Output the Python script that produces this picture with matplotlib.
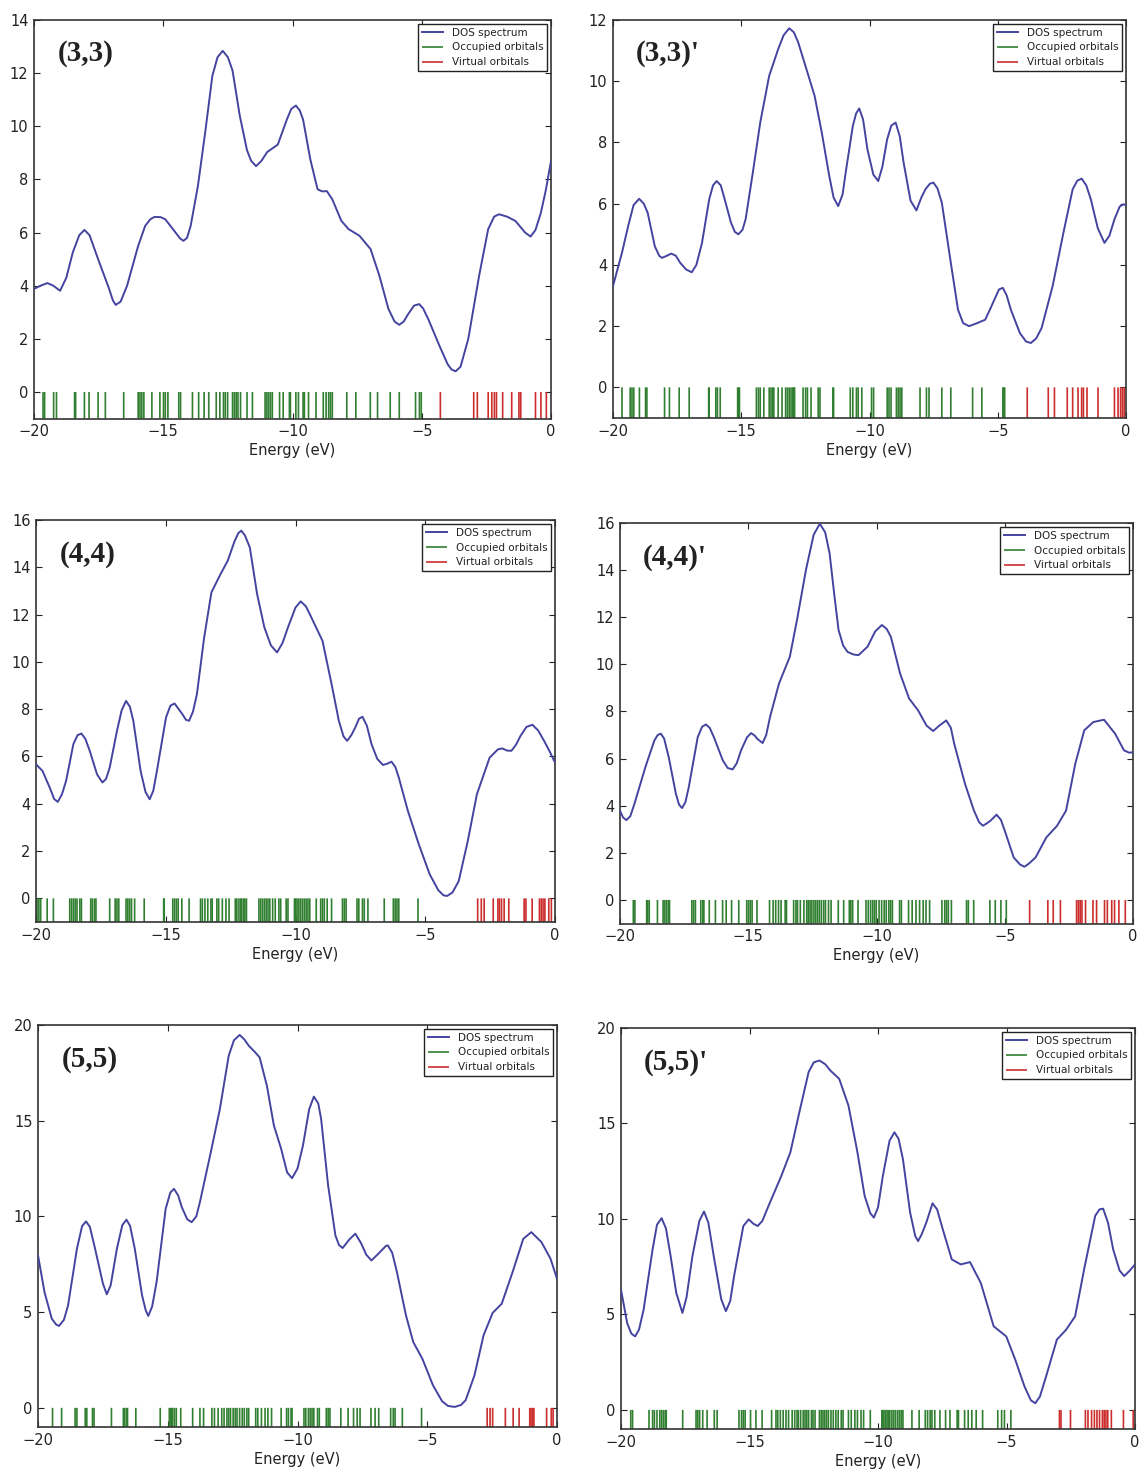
import matplotlib
matplotlib.use("Agg")
import matplotlib.pyplot as plt

plt.rcParams['font.family'] = ['DejaVu Sans']

# ---------------- data ----------------
labels = ["(3,3)", "(3,3)'", "(4,4)", "(4,4)'", "(5,5)", "(5,5)'"]
legend_names = ["DOS spectrum", "Occupied orbitals", "Virtual orbitals"]
x_label = "Energy (eV)"

# DOS curves: energy (eV) and DOS values
e33 = [-20, -19.75, -19.48, -19.25, -18.99, -18.75, -18.5, -18.25, -18.05, -17.85, -17.52, -17.1, -16.95,
       -16.84, -16.65, -16.4, -15.97, -15.7, -15.5, -15.34, -15.1, -14.92, -14.57, -14.35, -14.22, -14.08,
       -13.94, -13.66, -13.38, -13.1, -12.9, -12.7, -12.5, -12.32, -12.04, -11.76, -11.6, -11.41, -11.2,
       -10.98, -10.57, -10.22, -10.05, -9.87, -9.72, -9.59, -9.31, -9.03, -8.85, -8.67, -8.46, -8.11,
       -7.83, -7.41, -6.98, -6.64, -6.29, -6.05, -5.87, -5.7, -5.52, -5.3, -5.1, -4.95, -4.75, -4.32,
       -4.0, -3.85, -3.69, -3.5, -3.2, -2.78, -2.43, -2.2, -2.01, -1.7, -1.38, -1.0, -0.79, -0.6, -0.39,
       -0.2, 0]
d33 = [3.88, 4.0, 4.1, 4.0, 3.81, 4.3, 5.25, 5.9, 6.1, 5.9, 5.0, 3.9, 3.45,
       3.28, 3.4, 4.0, 5.5, 6.25, 6.5, 6.59, 6.58, 6.5, 6.06, 5.78, 5.69, 5.8,
       6.25, 7.75, 9.75, 11.9, 12.6, 12.84, 12.6, 12.1, 10.4, 9.1, 8.7, 8.5, 8.7,
       9.03, 9.31, 10.25, 10.65, 10.78, 10.6, 10.25, 8.75, 7.63, 7.55, 7.56, 7.25, 6.44,
       6.13, 5.88, 5.38, 4.38, 3.13, 2.65, 2.53, 2.65, 2.94, 3.25, 3.31, 3.15, 2.75, 1.75,
       1.05, 0.85, 0.78, 0.95, 2.0, 4.38, 6.13, 6.6, 6.69, 6.6, 6.44, 6.0, 5.85, 6.1, 6.75,
       7.6, 8.69]

e33p = [-20, -19.65, -19.4, -19.2, -18.98, -18.8, -18.65, -18.37, -18.2, -18.09, -17.9, -17.73, -17.55,
        -17.38, -17.15, -16.93, -16.75, -16.53, -16.25, -16.1, -15.96, -15.8, -15.68, -15.4, -15.25,
        -15.11, -14.95, -14.83, -14.55, -14.26, -13.91, -13.56, -13.35, -13.13, -12.95, -12.78, -12.42,
        -12.14, -11.86, -11.57, -11.4, -11.22, -11.05, -10.93, -10.65, -10.52, -10.4, -10.25, -10.08,
        -9.85, -9.66, -9.5, -9.31, -9.15, -8.98, -8.82, -8.67, -8.4, -8.17, -7.98, -7.82, -7.65, -7.51,
        -7.35, -7.18, -6.83, -6.55, -6.35, -6.12, -5.8, -5.49, -5.3, -5.13, -4.95, -4.8, -4.65, -4.49,
        -4.14, -3.9, -3.71, -3.5, -3.29, -2.86, -2.44, -2.08, -1.9, -1.73, -1.55, -1.37, -1.1, -0.84,
        -0.65, -0.45, -0.25, -0.1, 0]
d33p = [3.31, 4.4, 5.3, 5.95, 6.16, 6.0, 5.71, 4.61, 4.3, 4.23, 4.3, 4.37, 4.3,
        4.07, 3.85, 3.76, 4.0, 4.72, 6.14, 6.6, 6.74, 6.6, 6.25, 5.38, 5.08,
        5.0, 5.15, 5.49, 7.01, 8.65, 10.18, 11.05, 11.5, 11.73, 11.6, 11.27, 10.29,
        9.52, 8.32, 6.91, 6.2, 5.92, 6.3, 7.01, 8.54, 8.95, 9.11, 8.75, 7.77,
        6.95, 6.74, 7.2, 8.11, 8.55, 8.65, 8.2, 7.34, 6.1, 5.78, 6.2, 6.47, 6.65, 6.69,
        6.5, 6.03, 4.07, 2.54, 2.1, 2.0, 2.1, 2.21, 2.55, 2.87, 3.2, 3.25, 3.0, 2.54,
        1.78, 1.5, 1.45, 1.6, 1.94, 3.31, 5.05, 6.47, 6.75, 6.82, 6.6, 6.14, 5.2, 4.72,
        4.95, 5.49, 5.9, 5.98, 5.95]

e44 = [-20, -19.75, -19.47, -19.3, -19.16, -19.0, -18.84, -18.56, -18.4, -18.25, -18.1, -17.93, -17.65,
       -17.44, -17.3, -17.16, -16.88, -16.7, -16.53, -16.38, -16.25, -15.97, -15.78, -15.62, -15.48,
       -15.34, -14.99, -14.82, -14.66, -14.5, -14.36, -14.22, -14.1, -13.95, -13.8, -13.52, -13.24,
       -12.89, -12.61, -12.35, -12.2, -12.09, -11.95, -11.76, -11.48, -11.2, -10.95, -10.71, -10.5,
       -10.29, -10.0, -9.8, -9.6, -9.45, -8.96, -8.61, -8.33, -8.15, -8.01, -7.85, -7.7, -7.55, -7.42,
       -7.25, -7.07, -6.85, -6.63, -6.45, -6.3, -6.15, -6.02, -5.67, -5.25, -4.83, -4.5, -4.3, -4.16,
       -3.95, -3.71, -3.36, -3.01, -2.52, -2.2, -2.03, -1.85, -1.68, -1.5, -1.33, -1.1, -0.87, -0.65,
       -0.42, -0.2, 0]
d44 = [5.67, 5.39, 4.68, 4.2, 4.08, 4.4, 4.97, 6.52, 6.9, 6.97, 6.75, 6.24, 5.25,
       4.9, 5.05, 5.53, 7.08, 7.95, 8.35, 8.1, 7.51, 5.39, 4.5, 4.19, 4.55,
       5.39, 7.65, 8.15, 8.24, 8.0, 7.79, 7.55, 7.51, 7.9, 8.63, 11.03, 12.94,
       13.71, 14.28, 15.1, 15.45, 15.55, 15.35, 14.84, 12.87, 11.46, 10.7, 10.4, 10.8,
       11.46, 12.3, 12.56, 12.35, 12.02, 10.89, 9.06, 7.51, 6.85, 6.66, 6.9, 7.22, 7.6, 7.68,
       7.3, 6.52, 5.9, 5.64, 5.7, 5.78, 5.55, 5.11, 3.7, 2.29, 1.02, 0.35, 0.13, 0.1,
       0.25, 0.73, 2.43, 4.4, 5.95, 6.3, 6.34, 6.25, 6.24, 6.5, 6.87, 7.25, 7.34, 7.1,
       6.66, 6.2, 5.74]

e44p = [-20, -19.88, -19.75, -19.6, -19.44, -19.01, -18.66, -18.53, -18.41, -18.28, -18.1, -17.82, -17.7,
        -17.58, -17.45, -17.32, -16.97, -16.8, -16.65, -16.5, -16.34, -15.99, -15.8, -15.61, -15.45,
        -15.28, -15.05, -14.89, -14.75, -14.65, -14.44, -14.3, -14.15, -13.8, -13.38, -13.1, -12.75,
        -12.45, -12.21, -12.0, -11.83, -11.65, -11.48, -11.3, -11.13, -10.9, -10.7, -10.35, -10.05,
        -9.79, -9.6, -9.44, -9.08, -8.73, -8.38, -8.05, -7.79, -7.55, -7.28, -7.1, -6.97, -6.55, -6.2,
        -6.0, -5.85, -5.7, -5.56, -5.32, -5.15, -5.0, -4.65, -4.4, -4.23, -4.05, -3.8, -3.38, -2.96,
        -2.61, -2.25, -1.9, -1.55, -1.13, -0.7, -0.35, -0.15, 0]
d44p = [3.79, 3.5, 3.39, 3.55, 4.07, 5.64, 6.77, 7.0, 7.06, 6.85, 6.06, 4.5, 4.05,
        3.9, 4.15, 4.78, 6.91, 7.35, 7.45, 7.3, 6.91, 5.92, 5.6, 5.54, 5.8,
        6.35, 6.9, 7.08, 6.98, 6.84, 6.66, 7.0, 7.77, 9.19, 10.32, 11.88, 14.01,
        15.5, 15.97, 15.6, 14.72, 13.0, 11.46, 10.8, 10.53, 10.42, 10.39, 10.75, 11.4,
        11.67, 11.5, 11.17, 9.61, 8.55, 8.05, 7.4, 7.17, 7.4, 7.62, 7.3, 6.63, 4.93, 3.79,
        3.3, 3.15, 3.25, 3.36, 3.62, 3.4, 2.94, 1.8, 1.5, 1.41, 1.55, 1.8, 2.65, 3.15,
        3.79, 5.78, 7.2, 7.55, 7.65, 7.06, 6.35, 6.25, 6.27]

e55 = [-20, -19.75, -19.47, -19.3, -19.19, -19.0, -18.84, -18.5, -18.3, -18.15, -18.0, -17.8, -17.5,
       -17.35, -17.2, -16.96, -16.75, -16.59, -16.45, -16.27, -15.99, -15.85, -15.75, -15.6, -15.43,
       -15.08, -14.9, -14.76, -14.6, -14.46, -14.25, -14.08, -13.9, -13.76, -13.34, -12.99, -12.65,
       -12.45, -12.23, -12.05, -11.88, -11.65, -11.46, -11.18, -10.91, -10.63, -10.4, -10.21, -10.0,
       -9.79, -9.55, -9.37, -9.2, -9.09, -8.82, -8.54, -8.4, -8.26, -8.0, -7.77, -7.55, -7.35, -7.15,
       -6.85, -6.6, -6.52, -6.35, -6.17, -5.82, -5.54, -5.19, -4.78, -4.43, -4.2, -3.94, -3.7, -3.52,
       -3.18, -2.83, -2.48, -2.13, -1.71, -1.3, -0.99, -0.6, -0.25, 0]
d55 = [7.97, 6.05, 4.66, 4.35, 4.28, 4.6, 5.36, 8.31, 9.5, 9.74, 9.45, 8.31, 6.5,
       5.93, 6.4, 8.31, 9.55, 9.83, 9.5, 8.31, 5.88, 5.1, 4.8, 5.3, 6.57,
       10.4, 11.25, 11.44, 11.1, 10.49, 9.85, 9.7, 10.0, 10.75, 13.36, 15.62, 18.4,
       19.2, 19.48, 19.25, 18.92, 18.6, 18.31, 16.83, 14.75, 13.53, 12.3, 12.0, 12.5,
       13.7, 15.6, 16.26, 15.9, 15.1, 11.62, 9.01, 8.5, 8.35, 8.8, 9.1, 8.6, 8.0, 7.7,
       8.1, 8.45, 8.49, 8.1, 7.1, 4.83, 3.44, 2.57, 1.18, 0.35, 0.1, 0.05, 0.15, 0.4,
       1.7, 3.79, 4.96, 5.44, 7.1, 8.83, 9.18, 8.66, 7.79, 6.75]

e55p = [-20, -19.76, -19.6, -19.45, -19.3, -19.12, -18.77, -18.6, -18.42, -18.25, -18.07, -17.85, -17.61,
        -17.45, -17.22, -16.95, -16.77, -16.6, -16.37, -16.1, -15.92, -15.75, -15.6, -15.24, -15.03,
        -14.85, -14.68, -14.5, -14.26, -13.76, -13.41, -13.06, -12.7, -12.5, -12.28, -12.05, -11.86,
        -11.51, -11.15, -10.8, -10.52, -10.3, -10.16, -10.0, -9.81, -9.55, -9.36, -9.2, -9.03, -8.75,
        -8.55, -8.44, -8.3, -8.12, -7.88, -7.7, -7.48, -7.13, -6.78, -6.42, -6.0, -5.5, -5.01, -4.66,
        -4.3, -4.05, -3.88, -3.7, -3.46, -3.04, -2.68, -2.33, -1.98, -1.55, -1.38, -1.24, -1.05, -0.85,
        -0.6, -0.42, -0.2, 0]
d55p = [6.3, 4.55, 4.0, 3.85, 4.2, 5.25, 8.41, 9.7, 10.04, 9.5, 8.06, 6.13, 5.08,
        5.9, 8.06, 9.9, 10.39, 9.8, 7.88, 5.8, 5.17, 5.7, 7.01, 9.63, 9.98,
        9.75, 9.63, 9.9, 10.68, 12.26, 13.49, 15.59, 17.69, 18.2, 18.3, 18.1, 17.78,
        17.34, 15.94, 13.49, 11.21, 10.3, 10.07, 10.6, 12.26, 14.1, 14.54, 14.2, 13.13, 10.33,
        9.1, 8.84, 9.2, 9.81, 10.82, 10.5, 9.46, 7.88, 7.62, 7.74, 6.65, 4.38, 3.85, 2.63,
        1.23, 0.5, 0.35, 0.7, 1.75, 3.68, 4.2, 4.9, 7.36, 10.16, 10.5, 10.54, 9.8, 8.41,
        7.3, 7.01, 7.3, 7.62]

# Orbital energies (eV)
occ33 = [-19.65, -19.59, -19.24, -19.13, -18.43, -18.39, -18.05, -17.87, -17.52, -17.24, -16.53, -15.97,
         -15.90, -15.83, -15.75, -15.44, -15.13, -14.99, -14.92, -14.82, -14.40, -14.33, -13.87, -13.63,
         -13.42, -13.24, -12.95, -12.81, -12.67, -12.60, -12.51, -12.32, -12.25, -12.18, -12.11, -12.01,
         -11.76, -11.55, -11.06, -10.99, -10.92, -10.85, -10.78, -10.50, -10.36, -10.12, -10.08, -9.87,
         -9.77, -9.59, -9.54, -9.38, -9.09, -8.81, -8.70, -8.60, -8.53, -8.46, -7.90, -7.55, -6.99,
         -6.71, -6.22, -5.87, -5.24, -5.09, -5.02]
vir33 = [-4.28, -2.99, -2.85, -2.43, -2.29, -2.19, -2.11, -1.87, -1.52, -1.24, -1.17, -0.60, -0.39, -0.18]

occ33p = [-19.65, -19.33, -19.26, -19.19, -18.97, -18.73, -18.68, -17.99, -17.80, -17.42, -17.03, -16.27,
          -16.25, -15.99, -15.93, -15.82, -15.14, -15.11, -15.07, -14.41, -14.33, -14.26, -14.12, -13.91,
          -13.84, -13.77, -13.73, -13.56, -13.41, -13.27, -13.20, -13.13, -13.06, -12.99, -12.95, -12.92,
          -12.59, -12.49, -12.42, -12.28, -12.00, -11.93, -11.43, -11.40, -10.75, -10.65, -10.51, -10.44,
          -10.30, -9.92, -9.84, -9.31, -9.24, -9.16, -8.95, -8.88, -8.81, -8.74, -8.03, -7.78, -7.68,
          -7.18, -6.83, -5.98, -5.62, -4.80, -4.77, -4.73]
vir33p = [-3.85, -3.03, -2.79, -2.29, -2.08, -1.87, -1.73, -1.66, -1.52, -1.09, -0.45, -0.31, -0.21,
          -0.14, -0.07]

occ44 = [-19.96, -19.89, -19.82, -19.57, -19.33, -18.70, -18.63, -18.56, -18.49, -18.42, -18.31, -18.25,
         -17.89, -17.83, -17.75, -17.69, -17.16, -16.95, -16.88, -16.81, -16.53, -16.46, -16.39, -16.32,
         -16.20, -15.83, -15.08, -15.06, -14.73, -14.66, -14.59, -14.52, -14.38, -14.10, -13.66, -13.59,
         -13.49, -13.38, -13.26, -13.21, -13.03, -12.96, -12.82, -12.68, -12.56, -12.32, -12.26, -12.18,
         -12.11, -12.07, -12.00, -11.95, -11.89, -11.41, -11.34, -11.27, -11.20, -11.13, -11.06, -10.99,
         -10.88, -10.78, -10.64, -10.57, -10.36, -10.29, -10.04, -9.99, -9.94, -9.87, -9.80, -9.73,
         -9.66, -9.59, -9.52, -9.45, -9.20, -9.03, -8.96, -8.89, -8.78, -8.61, -8.19, -8.12, -8.05,
         -7.63, -7.56, -7.42, -7.35, -7.21, -6.58, -6.23, -6.16, -6.09, -6.02, -5.28]
vir44 = [-2.98, -2.84, -2.73, -2.38, -2.20, -2.14, -2.06, -1.96, -1.78, -1.19, -1.12, -0.88, -0.60,
         -0.53, -0.46, -0.39, -0.24, -0.14]

occ44p = [-19.48, -19.42, -18.96, -18.92, -18.86, -18.54, -18.32, -18.25, -18.18, -18.11, -18.07, -17.20,
          -17.13, -17.06, -16.85, -16.77, -16.73, -16.52, -16.28, -16.00, -15.86, -15.65, -15.37, -15.06,
          -14.99, -14.92, -14.85, -14.66, -14.17, -14.03, -13.93, -13.82, -13.72, -13.56, -13.51, -13.23,
          -13.14, -13.08, -12.97, -12.83, -12.72, -12.66, -12.59, -12.52, -12.44, -12.37, -12.30, -12.23,
          -12.15, -12.06, -11.99, -11.87, -11.77, -11.49, -11.28, -11.06, -11.00, -10.93, -10.72, -10.41,
          -10.32, -10.23, -10.15, -10.08, -10.01, -9.90, -9.80, -9.70, -9.62, -9.52, -9.45, -9.38, -9.10,
          -9.03, -8.75, -8.61, -8.46, -8.32, -8.18, -8.07, -7.93, -7.45, -7.34, -7.27, -7.20, -7.08,
          -6.49, -6.42, -6.21, -5.58, -5.37, -5.15, -4.94]
vir44p = [-4.03, -3.32, -3.11, -2.83, -2.20, -2.13, -2.06, -1.99, -1.85, -1.56, -1.42, -1.11, -1.00,
          -0.83, -0.72, -0.55, -0.30]

occ55 = [-19.44, -19.09, -18.57, -18.50, -18.18, -18.12, -17.90, -17.84, -17.17, -16.71, -16.66, -16.59,
         -16.55, -16.23, -15.29, -14.94, -14.90, -14.85, -14.81, -14.74, -14.67, -14.50, -14.04, -13.76,
         -13.62, -13.30, -13.20, -13.06, -12.92, -12.83, -12.72, -12.65, -12.58, -12.48, -12.40, -12.33,
         -12.23, -12.13, -12.05, -11.95, -11.88, -11.61, -11.53, -11.39, -11.25, -11.14, -11.00, -10.63,
         -10.42, -10.35, -10.25, -10.21, -9.75, -9.68, -9.58, -9.51, -9.44, -9.37, -9.23, -9.16, -8.89,
         -8.82, -8.75, -8.33, -8.05, -7.84, -7.70, -7.59, -7.17, -7.01, -6.87, -6.41, -6.31, -6.24,
         -5.96, -5.22]
vir55 = [-2.69, -2.58, -2.48, -1.99, -1.69, -1.46, -1.05, -1.00, -0.94, -0.89, -0.40, -0.22, -0.15]

occ55p = [-19.62, -19.55, -18.91, -18.77, -18.70, -18.60, -18.49, -18.42, -18.35, -18.28, -18.24, -17.60,
          -17.08, -17.01, -16.94, -16.82, -16.65, -16.37, -16.26, -15.41, -15.31, -15.24, -15.17, -14.96,
          -14.75, -14.51, -14.14, -13.97, -13.90, -13.80, -13.69, -13.58, -13.48, -13.34, -13.24, -13.15,
          -13.10, -13.01, -12.91, -12.84, -12.77, -12.70, -12.59, -12.53, -12.45, -12.28, -12.21, -12.14,
          -12.07, -12.00, -11.93, -11.83, -11.74, -11.64, -11.55, -11.43, -11.36, -11.15, -11.04, -10.90,
          -10.80, -10.66, -10.56, -10.30, -9.85, -9.81, -9.77, -9.71, -9.65, -9.60, -9.54, -9.46, -9.39,
          -9.32, -9.24, -9.17, -9.10, -9.03, -8.68, -8.40, -8.16, -8.07, -7.97, -7.90, -7.79, -7.59,
          -7.37, -7.20, -6.92, -6.87, -6.63, -6.49, -6.35, -6.18, -5.93, -5.34, -5.19, -5.08, -4.83]
vir55p = [-2.94, -2.88, -2.51, -1.93, -1.83, -1.69, -1.58, -1.48, -1.38, -1.27, -1.20, -1.13, -1.06,
          -0.92, -0.45, -0.07]

y_tops = [14, 12, 16, 16, 20, 20]
y_steps = [2, 2, 2, 2, 5, 5]

curves = [(e33, d33), (e33p, d33p), (e44, d44), (e44p, d44p), (e55, d55), (e55p, d55p)]
orbitals = [(occ33, vir33), (occ33p, vir33p), (occ44, vir44), (occ44p, vir44p),
            (occ55, vir55), (occ55p, vir55p)]

# ---------------- layout ----------------
W, H = 1140, 1472
# (left, top, right, bottom) in pixels
boxes = [(34, 20, 551, 418.6), (613, 20, 1126, 418), (36, 520, 555, 922),
         (620, 523, 1133, 923.5), (38, 1025, 557, 1427), (621, 1028, 1135, 1429)]

c_dos = '#4444a0'
c_occ = '#317f31'
c_vir = '#cc2d2d'

fig = plt.figure(figsize=(W / 100, H / 100), dpi=100)
for i in range(6):
    l, t, r, b = boxes[i]
    ax = fig.add_axes([l / W, 1 - b / H, (r - l) / W, (b - t) / H])
    e, d = curves[i]
    occ, vir = orbitals[i]
    ax.plot(e, d, color=c_dos, lw=1.4, label=legend_names[0], zorder=3,
            solid_joinstyle='round')
    lc1 = ax.vlines(occ, -1, 0, colors=c_occ, lw=1.2, label=legend_names[1])
    lc2 = ax.vlines(vir, -1, 0, colors=c_vir, lw=1.2, label=legend_names[2])
    lc1.set_snap(False)
    lc2.set_snap(False)
    ax.set_xlim(-20, 0)
    ax.set_ylim(-1, y_tops[i])
    ax.set_xticks([-20, -15, -10, -5, 0])
    ax.set_yticks(list(range(0, y_tops[i] + 1, y_steps[i])))
    ax.tick_params(direction='in', top=True, right=True, length=4, width=0.8,
                   labelsize=10.5, colors='#222222', pad=4)
    for sp in ax.spines.values():
        sp.set_linewidth(1.2)
        sp.set_color('#333333')
    ax.set_xlabel(x_label, fontsize=10.5, color='#222222', labelpad=3)
    ax.text(0.045, 0.915, labels[i], transform=ax.transAxes, fontsize=21,
            fontweight='bold', family='Liberation Serif', va='center', ha='left', color='#222222')
    leg = ax.legend(loc='upper right', fontsize=7.5, fancybox=False, framealpha=1,
                    edgecolor='#222222', borderaxespad=0.35, handlelength=2.0,
                    labelspacing=0.45, borderpad=0.4, handletextpad=0.8)
    leg.get_frame().set_linewidth(1.0)
    for txt in leg.get_texts():
        txt.set_color('#222222')

fig.savefig("out.png", dpi=100)
